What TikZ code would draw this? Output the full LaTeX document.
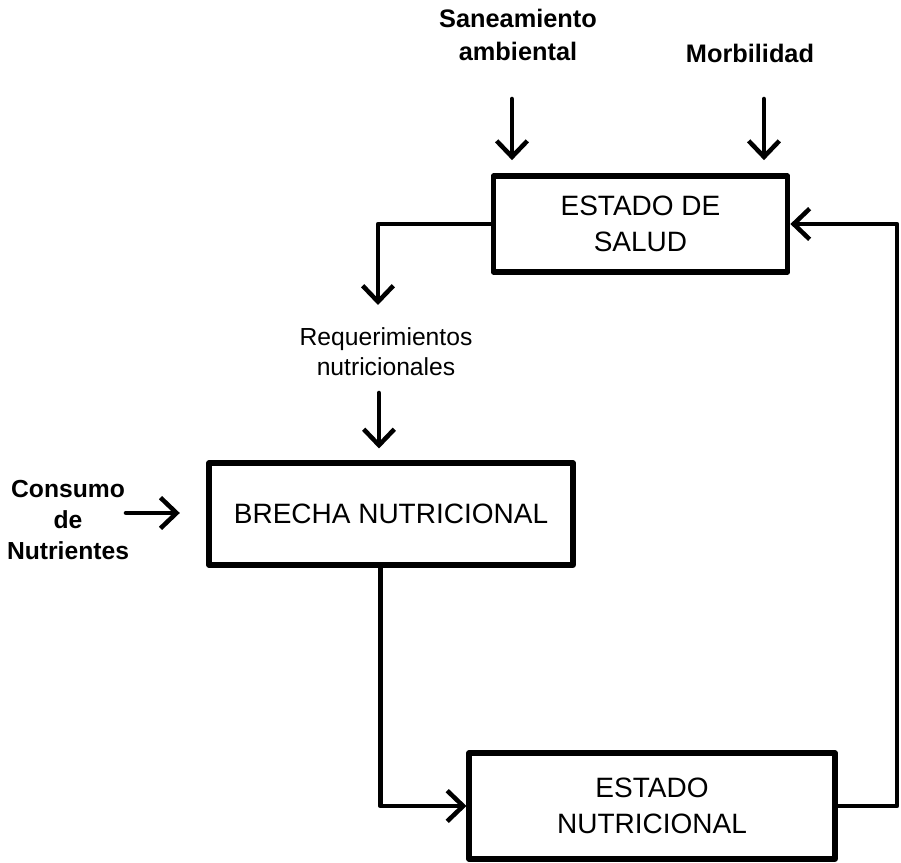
\documentclass[tikz,border=0pt]{standalone}
\usepackage{fontspec}
\setmainfont{Liberation Sans}
\usetikzlibrary{arrows.meta}

\begin{document}
\begin{tikzpicture}[x=0.75pt,y=0.75pt,yscale=-1,xscale=1,
  caja/.style={draw, line width=3.8pt, line join=round, inner sep=0pt, align=center, font=\fontsize{21}{27}\selectfont},
  rotulo/.style={align=center, inner sep=0pt, font=\fontsize{19}{25}\selectfont\bfseries},
  flecha/.style={line width=3.4pt, line cap=round, line join=round, -{Straight Barb[length=12pt,width=23pt]}}]
%set diagram left start at 0, and has height of 863
\useasboundingbox (0,0) rectangle (901,863);

%Shape: Rectangle [ESTADO DE SALUD]
\node[caja, minimum width=221pt, minimum height=72pt] (salud) at (640.5,224) {ESTADO DE\\SALUD};
%Shape: Rectangle [BRECHA NUTRICIONAL]
\node[caja, minimum width=273pt, minimum height=76.5pt] (brecha) at (391,514) {BRECHA NUTRICIONAL};
%Shape: Rectangle [ESTADO NUTRICIONAL]
\node[caja, minimum width=274.5pt, minimum height=79.5pt] (nutri) at (652,806) {ESTADO\\NUTRICIONAL};

% Text Node
\node[rotulo] (sanea) at (518,35) {Saneamiento\\ambiental};
% Text Node
\node[rotulo] (morb) at (750,53) {Morbilidad};
% Text Node
\node[rotulo, font=\fontsize{18.5}{22.5}\selectfont] (reque) at (386,352) {Requerimientos\\nutricionales};
% Text Node
\node[rotulo, font=\fontsize{18.5}{23}\selectfont\bfseries] (consu) at (68,520) {Consumo\\de\\Nutrientes};

\coordinate (sanea-in) at (512,99);
\coordinate (morb-in) at (764,99);
\coordinate (reque-in) at (379,393);
\coordinate (consu-in) at (126,513);
\coordinate (salud-out) at (378,305);
\coordinate (retorno) at (897,515);

%Straight Lines
\draw[flecha, shorten >=10pt] (sanea-in) -- (sanea-in |- salud.north);
\draw[flecha, shorten >=10pt] (morb-in) -- (morb-in |- salud.north);
\draw[flecha, shorten >=9pt] (reque-in) -- (reque-in |- brecha.north);
\draw[flecha, shorten >=20pt] (consu-in) -- (consu-in -| brecha.west);
%Straight Lines
\draw[flecha] (salud.west) -| (salud-out);
\draw[flecha] ([xshift=-8pt]brecha.south) |- (nutri.west);
\draw[flecha] (nutri.east) -| (retorno) |- (salud.east);

\end{tikzpicture}
\end{document}
